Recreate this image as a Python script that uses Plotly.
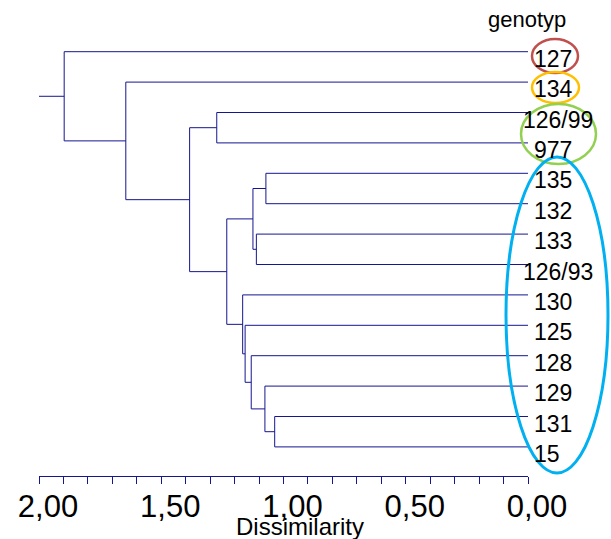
import plotly.graph_objects as go

# ---- data -------------------------------------------------------------
genotypes = ["127", "134", "126/99", "977", "135", "132", "133",
             "126/93", "130", "125", "128", "129", "131", "15"]

# agglomeration steps: ids 0..13 are genotypes, id 14+k is the cluster
# formed at step k
merge_left = [12, 4, 11, 6, 15, 10, 9, 8, 18, 2, 23, 1, 0]
merge_right = [13, 5, 14, 7, 17, 16, 19, 20, 21, 3, 22, 24, 25]
merge_height = [1.036, 1.072, 1.076, 1.111, 1.125, 1.132, 1.157,
                1.167, 1.232, 1.273, 1.384, 1.645, 1.897]

tick_values = [round(2.0 - 0.1 * k, 1) for k in range(21)]
tick_labels = {2.0: "2,00", 1.5: "1,50", 1.0: "1,00", 0.5: "0,50", 0.0: "0,00"}
axis_start, axis_end = 2.0, 0.0

# ---- geometry ---------------------------------------------------------
W, H = 611, 539
ML, MR, MT, MB = 39, 83, 0, 63
PLOT_W, PLOT_H = W - ML - MR, H - MT - MB
LEAF0_PX, LEAF_STEP_PX = 51.7, 30.4
y_top = (0 - LEAF0_PX) / LEAF_STEP_PX
y_bottom = (PLOT_H - LEAF0_PX) / LEAF_STEP_PX

LINE = "#16168f"
FONT = "Arial, Liberation Sans, sans-serif"


def px_x(px):
    return (px - ML) / PLOT_W


def px_y(py):
    return 1 - (py - MT) / PLOT_H


# ---- dendrogram segments ---------------------------------------------
n = len(genotypes)
pos = {i: (0.0, float(i)) for i in range(n)}  # id -> (height, y)
xs, ys = [], []
for k, (a, b, h) in enumerate(zip(merge_left, merge_right, merge_height)):
    ha, ya = pos[a]
    hb, yb = pos[b]
    xs += [ha, h, h, hb, None]
    ys += [ya, ya, yb, yb, None]
    pos[n + k] = (h, (ya + yb) / 2)

root_h, root_y = pos[n + len(merge_height) - 1]
xs += [root_h, axis_start, None]
ys += [root_y, root_y, None]

fig = go.Figure(go.Scatter(x=xs, y=ys, mode="lines",
                           line=dict(color=LINE, width=1),
                           hoverinfo="skip", showlegend=False))

# ---- genotype labels --------------------------------------------------
annotations = []
for i, name in enumerate(genotypes):
    if len(name) <= 3:
        ax, anchor = px_x(531.5), "left"
    else:
        ax, anchor = px_x(557.5), "center"
    annotations.append(dict(x=ax, y=i, xref="paper", yref="y", text=name,
                            showarrow=False, xanchor=anchor, yanchor="middle",
                            yshift=-7, font=dict(family=FONT, size=23, color="black")))

annotations.append(dict(x=px_x(527), y=px_y(20), xref="paper", yref="paper",
                        text="genotyp", showarrow=False, xanchor="center",
                        yanchor="middle", font=dict(family=FONT, size=22, color="black")))
annotations.append(dict(x=px_x(300), y=px_y(526), xref="paper", yref="paper",
                        text="Dissimilarity", showarrow=False, xanchor="center",
                        yanchor="middle", font=dict(family=FONT, size=24, color="black")))

# ---- highlighted groups ----------------------------------------------
groups = [
    ((532, 578, 39, 73), "#C0504D", 2.5),
    ((532, 579, 72, 103), "#FFC000", 2.5),
    ((521, 596, 104, 164), "#92D050", 2.5),
    ((506, 608, 157, 473), "#00B0F0", 3),
]
shapes = []
for (x0, x1, y0, y1), col, w in groups:
    shapes.append(dict(type="circle", xref="paper", yref="paper",
                       x0=px_x(x0), x1=px_x(x1), y0=px_y(y1), y1=px_y(y0),
                       line=dict(color=col, width=w), fillcolor="rgba(0,0,0,0)"))

fig.update_layout(
    width=W, height=H,
    margin=dict(l=ML, r=MR, t=MT, b=MB, pad=0),
    paper_bgcolor="white", plot_bgcolor="white",
    annotations=annotations, shapes=shapes,
    xaxis=dict(range=[axis_start, axis_end], showgrid=False, zeroline=False,
               showline=True, linecolor=LINE, linewidth=1,
               ticks="outside", ticklen=7, tickwidth=1, tickcolor=LINE,
               tickvals=tick_values,
               ticktext=[tick_labels.get(v, "") for v in tick_values],
               ticklabelshift=-9, ticklabelstandoff=-4,
               tickfont=dict(family=FONT, size=31, color="black")),
    yaxis=dict(range=[y_bottom, y_top], visible=False),
)

fig.write_html("out.html")
